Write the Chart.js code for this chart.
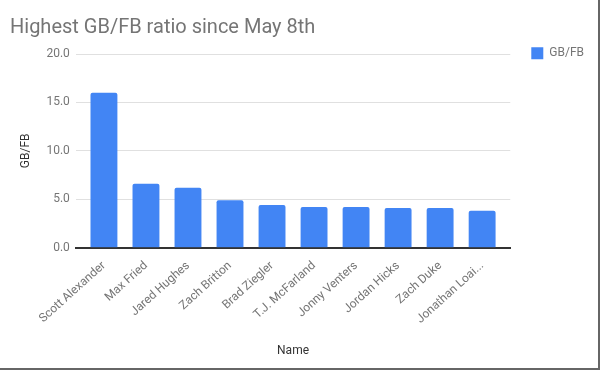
<!DOCTYPE html>
<html>
<head>
<meta charset="utf-8">
<script src="https://cdn.jsdelivr.net/npm/chart.js@4"></script>
<style>
  html, body { margin: 0; padding: 0; background: #fff; }
  #wrap { position: relative; width: 598px; height: 368px; border-right: 2px solid #666; border-bottom: 2px solid #666; }
</style>
</head>
<body>
<div id="wrap"><canvas id="myChart" width="598" height="368"></canvas></div>
<script>
// pitchers and their GB/FB ratio
var names = ["Scott Alexander", "Max Fried", "Jared Hughes", "Zach Britton", "Brad Ziegler",
  "T.J. McFarland", "Jonny Venters", "Jordan Hicks", "Zach Duke", "Jonathan Loaisiga"];
var ratios = [16.0, 6.6, 6.2, 4.9, 4.4, 4.2, 4.2, 4.1, 4.1, 3.8];
var yTicks = [0, 5, 10, 15, 20];

var grey = "#757575";
var sidePad = 0.17; // extra room at both ends of the category axis

document.addEventListener("DOMContentLoaded", function(event) {
	var ctx = document.getElementById("myChart").getContext("2d");
	var chart = new Chart(ctx, {
		type: "bar",
		data: {
			labels: names,
			datasets: [{
				label: "GB/FB",
				backgroundColor: "#4285f4",
				borderRadius: 2,
				borderSkipped: "bottom",
				barPercentage: 0.64,
				categoryPercentage: 1,
				data: ratios
			}]
		},
		options: {
			responsive: false,
			animation: false,
			layout: { padding: { left: 10, right: 4, top: 6, bottom: 6 } },
			plugins: {
				title: {
					display: true,
					text: "Highest GB/FB ratio since May 8th",
					align: "start",
					color: grey,
					font: { family: "Roboto", size: 20, weight: "normal" },
					padding: { top: 10, bottom: 14 }
				},
				legend: {
					position: "right",
					align: "start",
					title: { display: true, text: "", font: { size: 1 }, padding: { top: 19, bottom: 0 } },
					labels: {
						boxWidth: 12,
						boxHeight: 12,
						color: grey,
						font: { family: "Roboto", size: 12 },
						padding: 21
					}
				},
				tooltip: { enabled: false }
			},
			scales: {
				x: {
					grid: { display: false },
					border: { color: "#333", width: 2 },
					afterBuildTicks: function(axis) {
						axis._startValue = -0.5 - sidePad;
						axis._valueRange = names.length + sidePad * 2;
					},
					ticks: {
						color: grey,
						font: { family: "Roboto", size: 12 },
						minRotation: 42,
						maxRotation: 42,
						autoSkip: false,
						callback: function(v) {
							var s = names[v];
							return s.length > 16 ? s.slice(0, 13) + "..." : s;
						}
					},
					title: {
						display: true,
						text: "Name",
						color: "#333",
						font: { family: "Roboto", size: 12 },
						padding: { top: 14 }
					}
				},
				y: {
					min: 0,
					max: 20,
					afterBuildTicks: function(axis) {
						axis.ticks = yTicks.map(function(v) { return { value: v }; });
					},
					grid: { color: "#e0e0e0", drawTicks: false },
					border: { display: false },
					ticks: {
						color: grey,
						padding: 6,
						font: { family: "Roboto", size: 12 },
						callback: function(v) { return Number(v).toFixed(1); }
					},
					title: {
						display: true,
						text: "GB/FB",
						color: "#333",
						font: { family: "Roboto", size: 12 },
						padding: { top: 9, bottom: 7 }
					}
				}
			}
		}
	});
});
</script>
</body>
</html>
